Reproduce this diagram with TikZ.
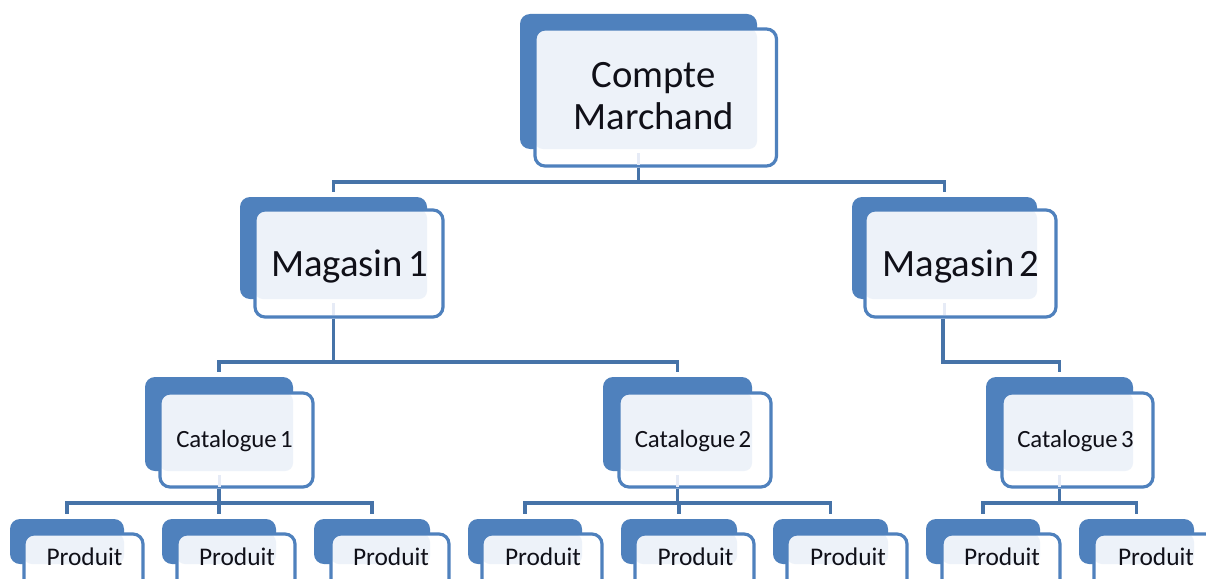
\documentclass[tikz,border=0pt]{standalone}
\usepackage{fontspec}
\setmainfont{Carlito}[WordSpace=0.6]
\usetikzlibrary{fit,positioning}
\definecolor{bluefill}{HTML}{4F81BD}
\definecolor{palefill}{HTML}{EDF2F9}
\definecolor{stubfill}{HTML}{E6EBF6}
\definecolor{linkblue}{HTML}{4673A8}
\definecolor{inktext}{HTML}{101018}
\tikzset{
  backbox/.style={fit=#1,inner sep=0pt,fill=bluefill,rounded corners=10pt},
  frontbox/.style={fit=#1,inner sep=0pt,rounded corners=10pt,line width=3.2pt,draw=bluefill},
  link/.style={draw=linkblue,line width=3.2pt,shorten >=4.5pt},
  labeltext/.style={text=inktext,align=center,inner sep=0pt},
  rootfont/.style={labeltext,font=\fontsize{38.7}{41.5}\selectfont,xshift=-2pt,yshift=1.5pt},
  shopfont/.style={labeltext,font=\fontsize{38.7}{40}\selectfont,xshift=0.5pt,yshift=-3pt},
  catfont/.style={labeltext,font=\fontsize{24.8}{26}\selectfont,xshift=-2pt,yshift=-1pt},
  prodfont/.style={labeltext,font=\fontsize{25.4}{27}\selectfont,xshift=1pt,yshift=10pt},
  stubline/.style={draw=stubfill,line width=3pt},
}
% name, back NW, back SE, front NW, front SE, font style, text
\newcommand{\boxunit}[7]{%
  \coordinate (#1bnw) at (#2); \coordinate (#1bse) at (#3);
  \coordinate (#1fnw) at (#4); \coordinate (#1fse) at (#5);
  \node[backbox={(#1bnw)(#1bse)}] (#1) {};
  \node[fit={(#1fnw)(#1fse)},inner sep=0pt,rounded corners=10pt,fill=white] (#1w) {};
  \fill[palefill,rounded corners=8pt] (#1fnw) rectangle (#1bse);
  \node[frontbox={(#1fnw)(#1fse)}] (#1f) {};
  \node[#6] (#1t) at (#1f.center) {#7};
}
\begin{document}
\begin{tikzpicture}[x=1pt,y=-1pt]
\useasboundingbox (0,0) rectangle (1206,578);
\clip (0,0) rectangle (1206,578);
\fill[white] (0,0) rectangle (1206,578);
\coordinate (bus0) at (0,182);
\coordinate (bus1) at (0,362);
\coordinate (bus2) at (0,503);
\boxunit{root}{520,14}{757,149}{535,29}{776.5,166}{rootfont}{Compte\\Marchand}
\boxunit{ma}{240,197}{427,299}{255,210}{443,317}{shopfont}{Magasin 1}
\boxunit{mb}{852,197}{1037,299}{865,210}{1056,317}{shopfont}{Magasin 2}
\boxunit{ca}{145,377}{293,471}{160,393}{313,487}{catfont}{Catalogue 1}
\boxunit{cb}{603,377}{752,471}{619,393}{771,487}{catfont}{Catalogue 2}
\boxunit{cc}{986,377}{1133,471}{1002,393}{1153,487}{catfont}{Catalogue 3}
\boxunit{pa}{10,519}{124,564}{24,534}{143,600}{prodfont}{Produit}
\boxunit{pb}{162,519}{276,564}{177,534}{295,600}{prodfont}{Produit}
\boxunit{pc}{314,519}{430,564}{331,534}{449,600}{prodfont}{Produit}
\boxunit{pd}{468,519}{582,564}{482,534}{602,600}{prodfont}{Produit}
\boxunit{pe}{621,519}{737,564}{635,534}{754,600}{prodfont}{Produit}
\boxunit{pf}{773,519}{888,564}{787,534}{907,600}{prodfont}{Produit}
\boxunit{pg}{926,519}{1040,564}{942,534}{1060,600}{prodfont}{Produit}
\boxunit{ph}{1079,519}{1194,564}{1094,534}{1216,600}{prodfont}{Produit}
% connectors
\foreach \p/\c/\b in {root/ma/bus0,root/mb/bus0,ma/ca/bus1,ma/cb/bus1,ca/pa/bus2,ca/pb/bus2,ca/pc/bus2,cb/pd/bus2,cb/pe/bus2,cb/pf/bus2,cc/pg/bus2,cc/ph/bus2}{
  \path[link] (\p.south |- \p f.south) -- (\p.south |- \b) -| (\c.north);
}
\path[link] ([xshift=-1.5pt]mb.south |- mbf.south) -- ([xshift=-1.5pt]mb.south |- bus1) -| (cc.north);
% faint stubs under the pale panels
\foreach \p in {root,ma,mb,ca,cb,cc}{
  \path[stubline] ([yshift=-4pt]\p.south) -- ([yshift=-15.5pt]\p.south);
}
\end{tikzpicture}
\end{document}
